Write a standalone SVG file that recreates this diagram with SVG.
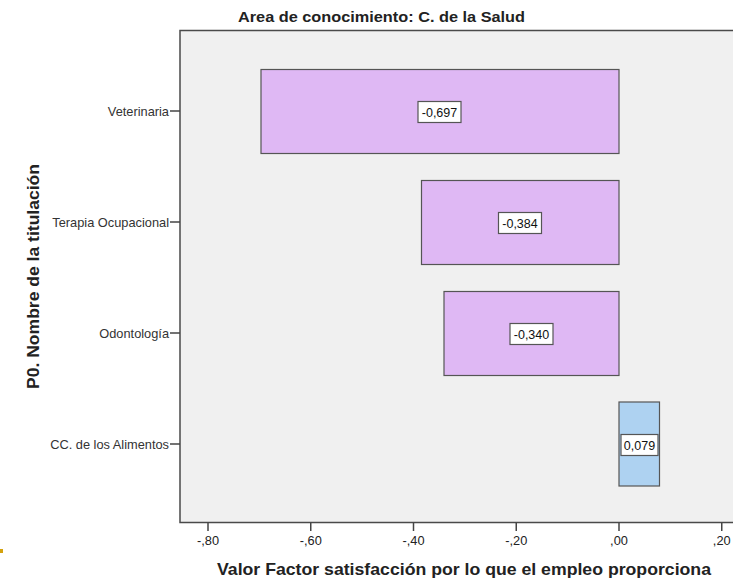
<svg xmlns="http://www.w3.org/2000/svg" width="733" height="581" viewBox="0 0 733 581">
<style>
text{font-family:"Liberation Sans",Arial,sans-serif;fill:#222}
.title{font-size:15px;font-weight:bold}
.axt{font-size:16.5px;font-weight:bold}
.tick{font-size:12.8px;fill:#333}
.cat{font-size:12.8px;fill:#333;text-anchor:end}
.val{font-size:12.5px;text-anchor:middle;fill:#111}
.bar{fill:#dfb8f4;stroke:#555;stroke-width:1.2}
.barb{fill:#aed2f1;stroke:#555;stroke-width:1.2}
.lbl{fill:#fff;stroke:#555;stroke-width:1.2}
.tk{stroke:#444;stroke-width:1.5}
</style>
<rect width="733" height="581" fill="#fff"/>
<text class="title" x="381.5" y="21.5" text-anchor="middle" textLength="287" lengthAdjust="spacingAndGlyphs">Area de conocimiento: C. de la Salud</text>
<rect x="180" y="30.5" width="600" height="492" fill="#f0f0f0" stroke="#4a4a4a" stroke-width="1.5"/>
<g id="axes">
<g class="tk">
<line x1="170" y1="111" x2="180" y2="111"/>
<line x1="170" y1="222" x2="180" y2="222"/>
<line x1="170" y1="333" x2="180" y2="333"/>
<line x1="170" y1="444" x2="180" y2="444"/>
<line x1="208" y1="522.5" x2="208" y2="531"/>
<line x1="310.75" y1="522.5" x2="310.75" y2="531"/>
<line x1="413.5" y1="522.5" x2="413.5" y2="531"/>
<line x1="516.25" y1="522.5" x2="516.25" y2="531"/>
<line x1="619" y1="522.5" x2="619" y2="531"/>
<line x1="721.75" y1="522.5" x2="721.75" y2="531"/>
</g>
<text class="cat" x="169" y="115.5">Veterinaria</text>
<text class="cat" x="169" y="226.5">Terapia Ocupacional</text>
<text class="cat" x="169" y="337.5">Odontología</text>
<text class="cat" x="169" y="448.5">CC. de los Alimentos</text>
<g class="tick" text-anchor="middle">
<text x="208" y="545">-,80</text>
<text x="310.75" y="545">-,60</text>
<text x="413.5" y="545">-,40</text>
<text x="516.25" y="545">-,20</text>
<text x="619" y="545">,00</text>
<text x="721.75" y="545">,20</text>
</g>
<text class="axt" x="464" y="575" text-anchor="middle" textLength="494" lengthAdjust="spacingAndGlyphs">Valor Factor satisfacción por lo que el empleo proporciona</text>
<text class="axt" transform="translate(38.5,276.5) rotate(-90)" x="0" y="0" text-anchor="middle" textLength="225" lengthAdjust="spacingAndGlyphs">P0. Nombre de la titulación</text>
</g>
<g id="bar-veterinaria">
<rect class="bar" x="261" y="69.5" width="358" height="84"/>
<rect class="lbl" x="418" y="101.5" width="43" height="21"/>
<text class="val" x="439.5" y="116.5">-0,697</text>
</g>
<g id="bar-terapia">
<rect class="bar" x="421.5" y="180.5" width="197.5" height="84"/>
<rect class="lbl" x="498.5" y="212.5" width="43" height="21"/>
<text class="val" x="520" y="227.5">-0,384</text>
</g>
<g id="bar-odontologia">
<rect class="bar" x="444" y="291.5" width="175" height="84"/>
<rect class="lbl" x="510" y="323.5" width="43" height="21"/>
<text class="val" x="531.5" y="338.5">-0,340</text>
</g>
<g id="bar-alimentos">
<rect class="barb" x="619" y="402" width="40.5" height="84"/>
<rect class="lbl" x="621" y="434.5" width="37" height="21"/>
<text class="val" x="639.5" y="449.5">0,079</text>
</g>
<rect x="0" y="549" width="3" height="4" fill="#d4a20e"/>
</svg>
